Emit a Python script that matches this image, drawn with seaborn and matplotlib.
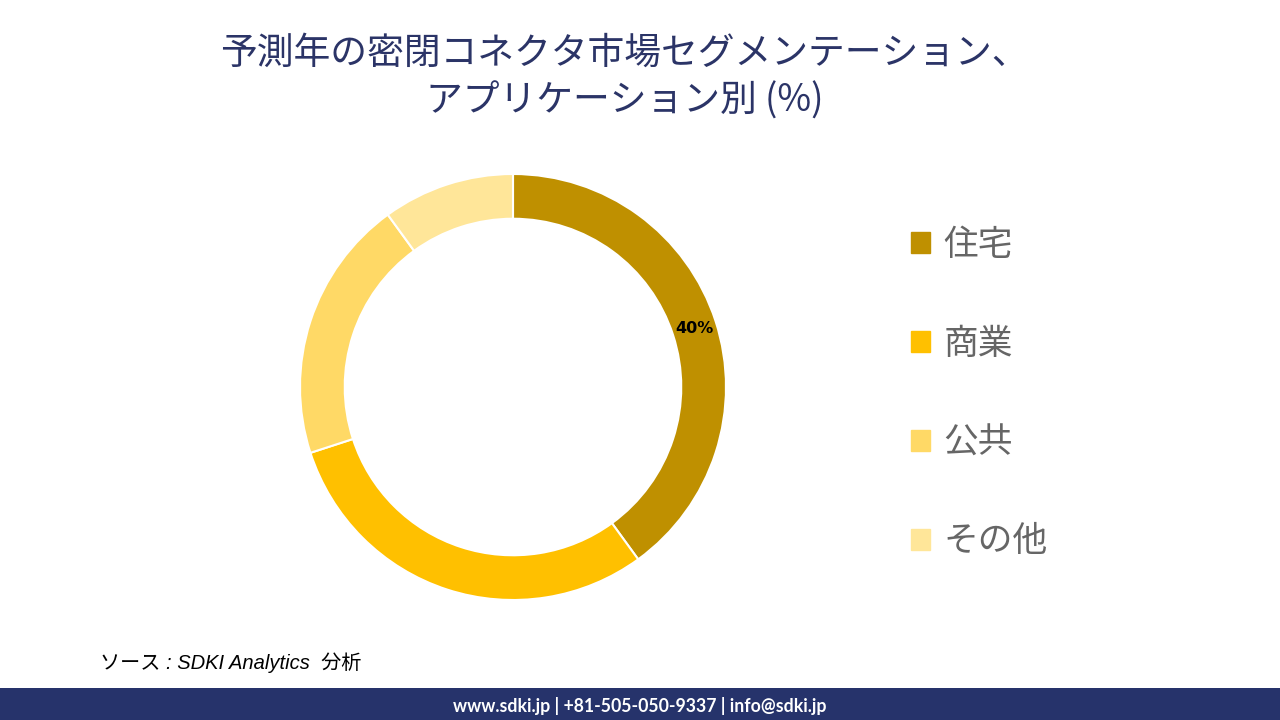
import matplotlib
matplotlib.use("Agg")
import matplotlib.pyplot as plt
import matplotlib.patches as mpatches
import numpy as np
import seaborn as sns

sns.set_theme(style="white")
plt.rcParams['font.family'] = ['Noto Sans CJK JP', 'DejaVu Sans']

# data
categories = ["住宅", "商業", "公共", "その他"]
shares = [40, 30, 20, 10]
colors = ["#BF9000", "#FFC000", "#FFD966", "#FFE699"]
shown_labels = ["40%", "", "", ""]

title = "予測年の密閉コネクタ市場セグメンテーション、\nアプリケーション別 (%)"
source = "ソース : SDKI Analytics  分析"
footer = "www.sdki.jp | +81-505-050-9337 | info@sdki.jp"

fig = plt.figure(figsize=(12.8, 7.2), dpi=100)
fig.patch.set_facecolor("white")

# donut axes, centred at about (513, 387) px with radius ~213 px
cx, cy, r = 513, 387, 213
ax = fig.add_axes([(cx - r) / 1280, (720 - cy - r) / 720, 2 * r / 1280, 2 * r / 720])
wedges, _ = ax.pie(shares, colors=colors, startangle=90, counterclock=False,
                   radius=1.0,
                   wedgeprops=dict(width=0.21, edgecolor="white", linewidth=1.5))
ax.set_xlim(-1, 1)
ax.set_ylim(-1, 1)
ax.set_aspect("equal")
ax.axis("off")

# percentage label on first slice
for w, lab in zip(wedges, shown_labels):
    ang = np.deg2rad((w.theta1 + w.theta2) / 2)
    if lab:
        ax.text(0.895 * np.cos(ang), 0.885 * np.sin(ang), lab, ha="center", va="center",
                fontsize=11.5, fontweight="bold", color="black", family=["DejaVu Sans"])

# title
fig.text(0.488, 0.893, title, ha="center", va="center", fontsize=26.5,
         color="#2B3467", linespacing=1.28)

# legend
handles = [mpatches.Patch(color=c, label=l) for c, l in zip(colors, categories)]
fig.legend(handles=handles, loc="upper left", bbox_to_anchor=(0.687, 0.727),
           frameon=False, fontsize=25, handlelength=0.55, handleheight=0.55,
           handletextpad=0.4, labelspacing=1.84, labelcolor="#666666")

# source
fig.text(0.078, 0.079, source, ha="left", va="center", fontsize=14.5,
         style="italic", color="black", family=["Liberation Sans", "Noto Sans CJK JP"])

# footer band
band = fig.add_axes([0, 0, 1, 32 / 720])
band.set_facecolor("#26336B")
band.set_xticks([])
band.set_yticks([])
for s in band.spines.values():
    s.set_visible(False)
band.text(0.5, 0.45, footer, ha="center", va="center", fontsize=12.7,
          fontweight="bold", color="white", family=["Lato", "DejaVu Sans"],
          transform=band.transAxes)

fig.savefig("out.png", dpi=100)
